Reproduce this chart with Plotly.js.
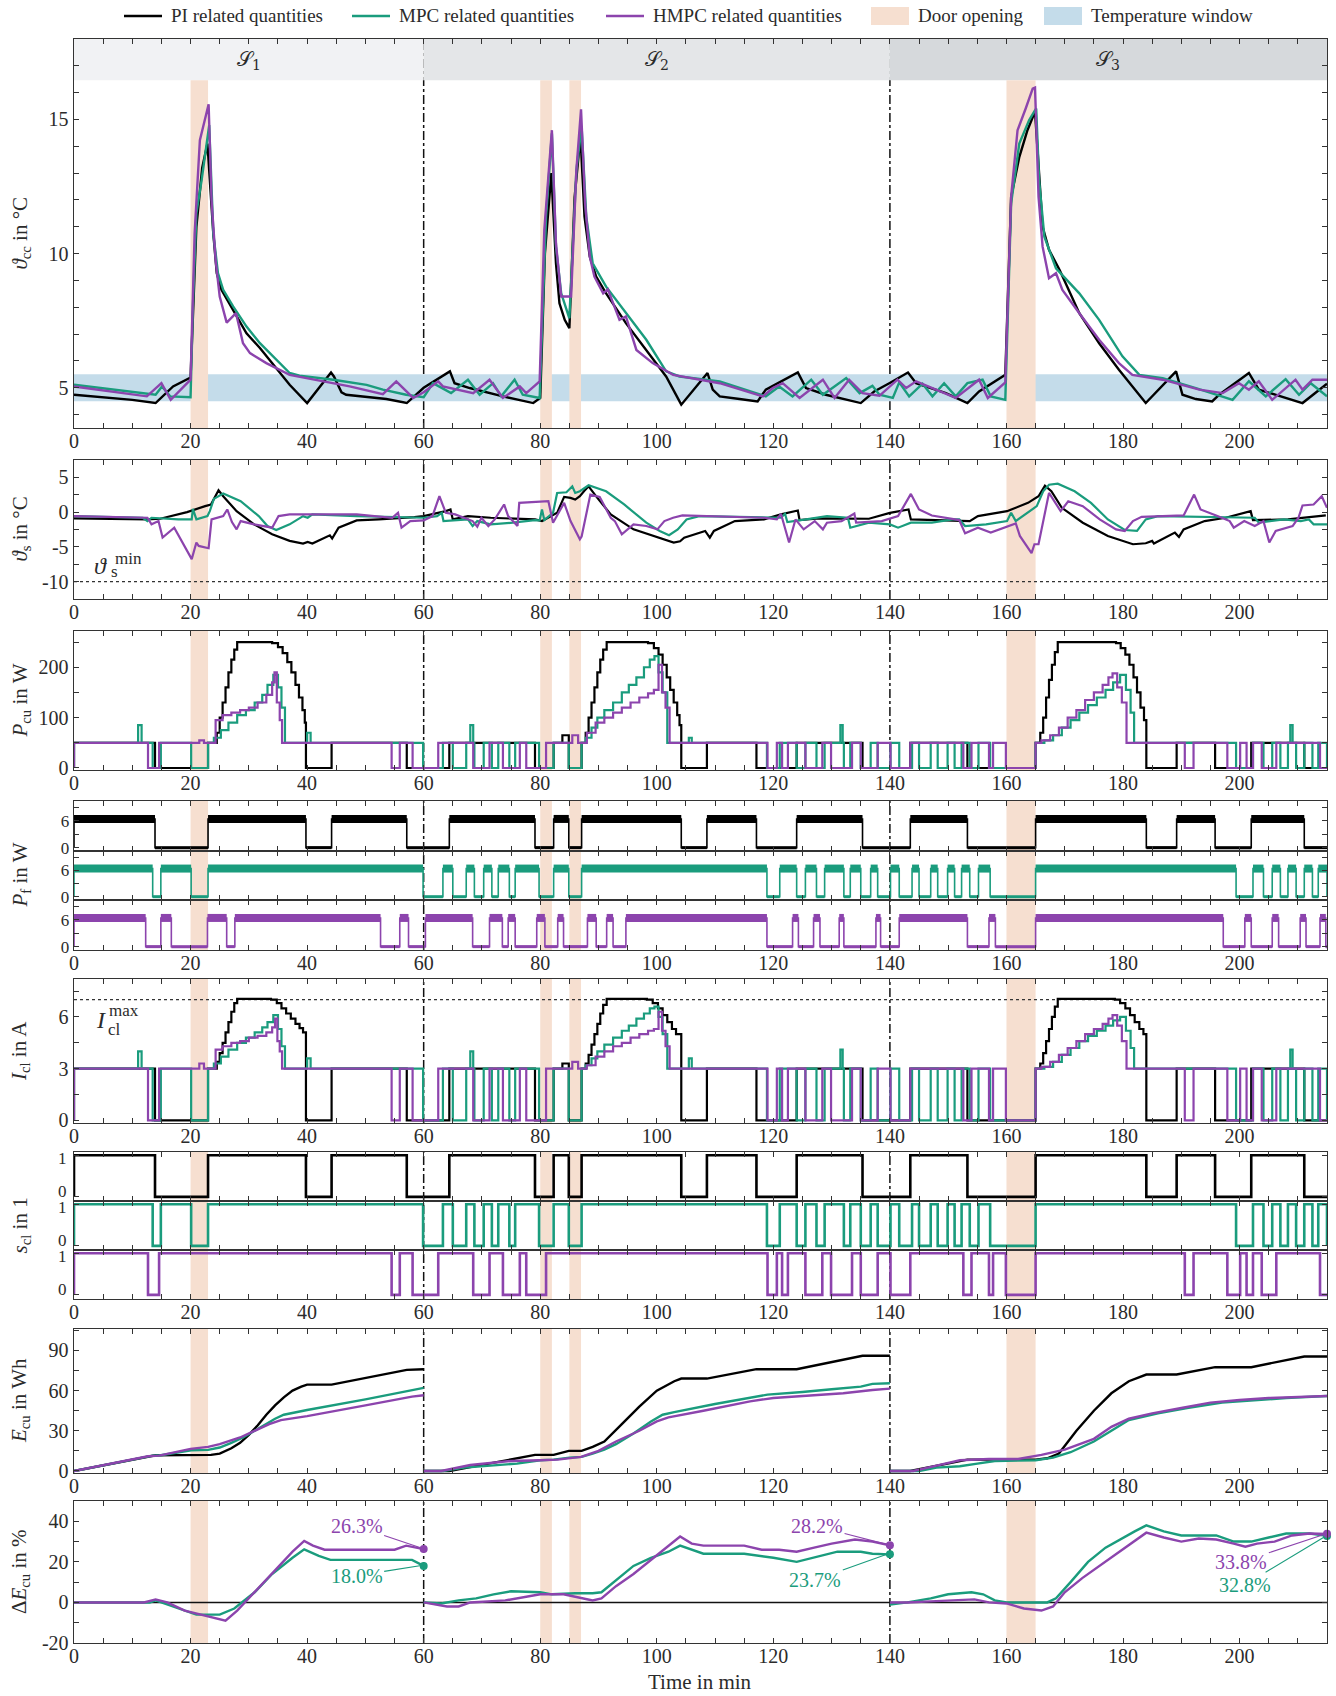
<!DOCTYPE html>
<html><head><meta charset="utf-8">
<script src="https://cdn.plot.ly/plotly-3.0.1.min.js"></script>
<style>body{margin:0;background:#fff}#chart{width:1336px;height:1696px}</style>
</head><body><div id="chart"></div>
<script>
// ---------------- DATA ----------------
const sectionBounds = [0, 60, 140, 215];
const sectionLabels = ['𝒮<sub>1</sub>', '𝒮<sub>2</sub>', '𝒮<sub>3</sub>'];
const doorOpenings = [[20, 23], [80, 82], [85, 87], [160, 165]];
const tempWindow = [4.5, 5.5];
const xTickLabels = [0, 20, 40, 60, 80, 100, 120, 140, 160, 180, 200];

// cold-chamber temperature [min, °C]
const tccPI = [[0,4.74],[5,4.65],[10,4.55],[14,4.43],[17,5.05],[20,5.38],[20.5,8.3],[21,11.0],[22,13.2],[22.9,14.1],[23.9,10.75],[24.5,9.27],[25.3,8.65],[27.3,7.9],[29.6,7.03],[31.9,6.48],[34.2,5.86],[37,5.11],[40,4.43],[44.1,5.57],[44.6,5.42],[45.9,4.83],[46.7,4.74],[50.2,4.65],[53.6,4.58],[57.1,4.43],[60,5.0],[64.5,5.61],[65.3,5.17],[67.9,4.99],[73.6,4.68],[78.8,4.43],[80,4.62],[80.8,10.0],[81.9,13.0],[82.7,9.64],[83.3,8.15],[84.2,7.53],[85,7.22],[85.9,12.1],[86.9,14.4],[87.6,11.38],[88.5,9.89],[89.6,9.14],[91.3,8.52],[94.7,7.41],[98.2,6.41],[101.6,5.42],[104.2,4.37],[108.7,5.55],[109.6,4.93],[110.8,4.68],[114.2,4.58],[117.3,4.49],[118.7,4.93],[124.2,5.57],[125.6,4.99],[129,4.74],[135,4.43],[137.3,4.86],[139.9,5.17],[143.1,5.57],[144.5,5.17],[149.6,4.8],[153.3,4.43],[155.3,4.86],[159.8,5.48],[160.8,12.1],[162.2,13.6],[163.6,14.6],[164.9,15.3],[165.6,12.74],[166.2,11.0],[167.3,10.14],[169.1,9.4],[172.5,7.78],[175.9,6.66],[179.3,5.67],[183.9,4.43],[189.1,5.61],[190.2,4.74],[192.5,4.58],[195.3,4.49],[196.5,4.74],[201.6,5.55],[203.3,4.93],[210.8,4.43],[215,5.15]];
const tccMPC = [[0,5.11],[14,4.74],[15.1,5.05],[16.5,4.68],[20,4.65],[20.4,8.0],[21,11.5],[21.9,12.74],[23.2,14.79],[23.9,10.75],[24.7,9.27],[25.6,8.65],[27.3,8.03],[29.6,7.28],[31.9,6.66],[34.7,6.04],[37,5.55],[38.7,5.45],[44.5,5.3],[50.2,5.11],[53,4.93],[57,4.74],[60,4.65],[61.6,5.17],[64.7,4.8],[67.6,5.3],[69.6,4.74],[71.9,5.17],[73.3,4.68],[75.6,5.3],[77,4.74],[79.9,4.62],[81,11.38],[82,14.48],[82.7,10.26],[83.6,8.52],[85,7.59],[86.2,13.1],[87.1,14.73],[87.9,11.38],[89,9.64],[91.3,8.77],[94.7,7.78],[98.2,6.79],[101.6,5.61],[103.9,5.42],[110.8,5.24],[118.7,4.68],[121,5.05],[123.3,4.68],[126.5,5.3],[128.5,4.74],[132.5,5.36],[134.8,4.8],[137,5.07],[138.2,4.74],[140.5,4.62],[141.6,5.2],[143.3,4.68],[145.6,5.15],[147.3,4.68],[149.3,5.17],[151.3,4.68],[153.3,5.17],[155.9,5.3],[157.3,4.68],[159.8,4.55],[160.8,11.87],[162.2,14.1],[163.9,14.98],[165.1,15.41],[165.6,12.74],[166.5,10.63],[168.5,9.45],[172.5,8.52],[175.9,7.53],[179.9,6.17],[182.8,5.48],[186.8,5.36],[192.5,4.99],[198.8,4.55],[201.6,5.24],[204.5,4.68],[207.9,5.32],[210.2,4.74],[212.2,5.17],[215,4.68]];
const tccHMPC = [[0,5.05],[12.5,4.68],[15,5.17],[16.6,4.55],[20,5.3],[20.7,10.76],[21.6,14.23],[23.1,15.57],[23.6,12.0],[24.3,9.76],[25,8.4],[26.2,7.43],[27.8,7.78],[29,6.66],[30.2,6.29],[33,5.92],[37,5.48],[41.6,5.3],[47.3,5.05],[53,4.76],[55.3,5.24],[58.2,4.62],[60,4.83],[62.5,5.24],[63.3,5.05],[68.5,4.8],[71.3,5.3],[73.6,4.62],[76.5,5.05],[77.6,4.8],[79.9,5.24],[80.7,10.88],[82,14.6],[82.7,10.38],[83.6,8.4],[85.3,8.4],[86.2,13.11],[87,15.38],[87.7,11.87],[88.5,9.89],[89.3,9.14],[90.8,8.52],[91.6,8.67],[93.6,7.53],[94.7,7.66],[96.5,6.41],[99.3,5.92],[102.8,5.48],[110.8,5.17],[118.2,4.68],[119.9,4.99],[121.6,5.17],[124.5,4.62],[128.5,5.3],[130.5,4.62],[133,5.3],[135.3,4.8],[138.2,4.7],[141.3,5.3],[142.8,4.99],[144.5,5.24],[151.3,4.62],[155.3,5.3],[156.8,4.62],[159.8,5.2],[160.8,12.12],[161.9,14.6],[163.3,15.41],[164.5,16.15],[164.9,16.19],[165.5,12.12],[166.2,10.26],[167.3,9.08],[168.5,9.27],[169.6,8.65],[172.5,7.78],[175.9,6.79],[179.3,5.92],[181.6,5.48],[186.8,5.3],[193.1,4.93],[197.1,4.8],[199.9,5.17],[201.6,4.93],[203.3,5.24],[205.6,4.55],[209.6,5.3],[210.8,4.93],[212.5,5.3],[215,5.3]];

// evaporator / supply temperature [min, °C]
const tsPI = [[0,-0.9],[12.6,-1.05],[14.8,-0.95],[19.4,0],[22.5,0.86],[23.5,1.1],[24.8,3.14],[25.6,2.29],[27.9,0.14],[30.9,-1.76],[34,-3.19],[37,-4.14],[39.3,-4.52],[40.1,-4.29],[40.9,-4.52],[43.9,-3.33],[44.3,-3.8],[45.4,-2.24],[48.5,-1.19],[52.3,-1.05],[58.4,-0.71],[60,-0.57],[63.8,0.14],[64.6,0.38],[65,-1.05],[67.6,-0.57],[71.5,-0.81],[79.1,-1.05],[80.3,-1.29],[81.8,-0.57],[82.9,-0.1],[84.1,2.19],[85.2,2.05],[86,1.81],[86.8,2.29],[87.5,3.0],[88.3,3.71],[89.8,2.05],[92.1,-0.33],[96,-2.48],[99.8,-3.52],[102.9,-4.38],[104,-4.2],[104.7,-3.67],[108.3,-2.71],[109.1,-3.67],[109.8,-2.71],[113.4,-1.29],[118.4,-1.05],[121.3,-0.33],[124.2,0.24],[124.5,-1.14],[127.8,-0.9],[136.4,-0.95],[140,-0.1],[143.2,0.38],[143.6,-1.05],[153.7,-1.29],[155.1,-0.57],[160.1,0.14],[163.7,1.33],[165.5,2.29],[166.6,3.81],[167.7,3.0],[169.5,0.62],[173.1,-1.52],[177.4,-3.43],[181.7,-4.62],[183.9,-4.48],[185,-4.14],[185.3,-4.52],[188.9,-2.95],[189.6,-3.57],[190.4,-2.48],[194,-1.29],[197.6,-0.81],[201.9,0.14],[202.3,-1.14],[208.3,-1.05],[214.8,-0.48]];
const tsMPC = [[0,-0.57],[11.8,-0.81],[12.6,-1.29],[13.3,-0.81],[17.9,-1.05],[20.2,-1.05],[20.4,0.48],[21,-1.05],[22.9,-0.57],[23.3,0.14],[24,1.9],[25.6,2.67],[28.6,1.57],[31.7,-0.57],[33.2,-2.0],[34.7,-2.57],[37,-1.76],[39.3,-0.57],[40.1,-0.81],[40.9,-0.33],[48.5,-0.57],[60,-0.81],[62.3,-0.57],[63.1,-0.1],[63.4,-1.29],[67.6,-1.05],[68.4,-2.0],[69.2,-1.29],[71.5,-1.76],[75.3,-1.52],[79.1,-1.14],[79.9,-1.19],[80.3,0.38],[80.7,-1.14],[82.2,-0.1],[82.9,2.76],[84.5,2.86],[85.5,3.71],[86,2.76],[86.8,3.0],[88.3,3.86],[91.3,3.0],[94.4,1.1],[98.2,-1.52],[100.5,-2.71],[102.1,-3.33],[103.6,-2.48],[105.1,-1.05],[107.3,-0.57],[118.4,-0.81],[121.3,-0.81],[122,-0.24],[122.4,-1.43],[125.6,-1.05],[129.2,-0.57],[132.8,-0.81],[133.2,-2.24],[136.4,-1.52],[140,-1.76],[141.4,-2.24],[143.6,-1.52],[147.2,-1.52],[150.8,-1.05],[151.9,-1.05],[152.9,-2.0],[156.5,-1.76],[160.1,-1.29],[160.8,-0.1],[161.6,-1.29],[165.2,0.86],[166.3,3.0],[167.3,3.95],[168.8,4.1],[171.7,3.0],[174.5,1.33],[177.4,-1.05],[180.3,-2.57],[182.4,-2.71],[183.9,-1.05],[186,-0.57],[197.6,-0.81],[202.6,-0.81],[203.3,-1.52],[207.6,-1.05],[210.5,-1.29],[211.9,-1.05],[212.7,-1.76],[215,-1.76]];
const tsHMPC = [[0,-0.57],[12.6,-0.81],[13.3,-1.76],[14.5,-1.29],[15.2,-3.67],[17.2,-2.24],[20.2,-6.76],[21,-4.38],[21.4,-4.86],[22.5,-5.1],[23.1,-5.19],[23.6,-1.05],[25.6,-0.57],[26.3,0.38],[27.1,-1.43],[27.9,-2.48],[28.6,-1.29],[30.9,-1.76],[34,-2.24],[35.1,-0.57],[37,-0.33],[48.5,-0.33],[54.6,-0.81],[55.6,-0.1],[56.2,-2.24],[57.7,-1.29],[60,-1.19],[61.5,-0.57],[62.7,2.29],[63.8,-0.1],[65.4,-0.33],[68.4,-1.29],[69.2,-2.1],[69.9,-0.81],[71.1,-2.0],[72.2,-1.05],[73.8,1.1],[74.5,-0.57],[76.1,-2.0],[76.4,1.33],[79.9,1.57],[81.4,1.57],[82.2,-1.52],[84.1,1.33],[85.2,-1.29],[86.8,-3.9],[87.1,-3.52],[88.6,2.52],[90.2,2.19],[92.1,-0.81],[92.8,-1.29],[94,-3.19],[96,-1.76],[98.2,-2.0],[100.1,-2.48],[101.3,-1.29],[102.8,-0.81],[104.4,-0.48],[118.4,-0.81],[120.6,-1.05],[121.3,-0.24],[122.7,-4.38],[123.8,-1.05],[125.2,-2.48],[127.1,-1.29],[128.5,-2.48],[129.2,-1.52],[131.7,-1.29],[133.9,-0.19],[134.2,-1.52],[138.6,-1.29],[141.4,-0.57],[143.6,2.62],[145,0.38],[147.2,-0.48],[151.9,-1.14],[152.9,-3.05],[155.1,-2.24],[157.3,-2.95],[161.6,-1.62],[162.3,-3.43],[164.3,-5.9],[164.8,-4.62],[165.5,-4.62],[167.3,2.76],[169.3,0.14],[170.6,1.57],[173.1,0.86],[176,-1.05],[178.8,-2.48],[180.3,-2.71],[181.7,-1.29],[183.2,-0.67],[190.4,-0.48],[192.2,2.52],[193.3,0.38],[196.2,-0.57],[198.3,-1.29],[199,-2.24],[200.8,-1.29],[202.6,-2.0],[204.1,-1.29],[205.1,-4.38],[206.2,-2.71],[209.1,-2.0],[210.1,-0.81],[210.8,0.95],[212.7,1.1],[214.1,2.29],[215,0.62]];
const tsMin = -10;

// compressor switching (on-intervals, min)
const sclOnPI = [[0,13.9],[23.0,39.8],[44.2,57.1],[64.4,79.1],[82.3,84.9],[87.1,104.2],[108.6,117.1],[124.0,135.3],[143.5,153.3],[165.0,184.0],[189.2,195.8],[202.0,211.1]];
const sclOnMPC = [[0,13.5],[14.9,20.1],[23.0,59.9],[63.3,65.0],[67.3,68.7],[70.3,71.7],[72.8,74.7],[75.7,79.8],[82.3,84.9],[87.1,118.9],[121.1,124.0],[125.5,127.4],[128.8,132.1],[133.2,135.0],[136.7,137.9],[140.1,141.6],[143.8,145.0],[147.0,148.2],[149.9,151.1],[152.3,153.7],[155.2,157.2],[165.0,199.4],[202.3,204.1],[205.6,207.0],[208.3,209.7],[211.1,212.5],[213.5,215]];
const sclOnHMPC = [[0,12.7],[14.6,54.5],[55.9,58.1],[62.5,68.5],[71.3,73.6],[76.5,77.6],[81.0,119.0],[120.6,121.5],[122.5,125.5],[128.4,129.9],[133.5,135.0],[137.9,140.1],[143.5,152.6],[154.0,157.0],[157.7,159.9],[165.0,190.6],[192.1,197.9],[200.1,201.2],[202.3,203.8],[206.3,213.8]];
// fan on-intervals (PI and MPC fans follow their compressor; HMPC separate)
const pfOnPI = sclOnPI;
const pfOnMPC = sclOnMPC;
const pfOnHMPC = [[0,12.3],[14.9,16.7],[22.9,26.2],[27.6,52.6],[55.9,57.4],[60.3,68.4],[71.3,73.5],[74.5,75.7],[79.4,80.8],[83.0,84.0],[88.1,89.6],[91.4,92.5],[94.7,118.9],[123.3,124.3],[126.9,128.0],[131.3,132.1],[137.6,138.4],[141.6,153.3],[157.0,158.1],[165.0,197.2],[200.9,202.0],[205.6,206.7],[210.4,211.4],[213.8,214.8]];
const pfLevel = 6.4;

// compressor power: base level when on, plus values read during recovery [min, W]
const pcuBase = 50;
const pcuPIExtra = [[24.5,70],[25,100],[25.5,130],[26,160],[26.5,190],[27,215],[27.5,235],[28,250],[34,248],[35,240],[35.8,228],[36.6,210],[37.3,190],[38,165],[38.6,140],[39.2,115],[39.6,90],[83.8,65],[87.8,70],[88.3,100],[88.8,130],[89.3,160],[89.8,190],[90.3,215],[90.8,235],[91.4,250],[98.5,248],[99.5,238],[100.3,225],[101,205],[101.7,180],[102.3,155],[102.9,130],[103.5,105],[103.9,85],[165.8,70],[166.3,100],[166.8,140],[167.3,175],[167.8,205],[168.3,230],[168.8,250],[178.8,248],[179.6,238],[180.4,225],[181.1,205],[181.8,180],[182.4,150],[183,120],[183.6,95]];
const pcuMPCExtra = [[11.0,85],[11.6,50],[24.0,60],[25.2,75],[26.5,90],[28,105],[29.5,115],[31,130],[32.3,145],[33.2,165],[34.2,185],[35,160],[35.6,120],[36.2,50],[40,70],[40.6,50],[68.0,85],[68.5,50],[87.8,60],[88.8,80],[89.8,100],[91,115],[92.5,130],[94,150],[95.2,165],[96.5,180],[97.8,200],[98.8,215],[99.6,222],[100.3,190],[101,150],[101.8,50],[105.5,60],[106,50],[131.5,85],[131.9,50],[166.5,55],[168,65],[169.5,80],[171,95],[172.5,110],[174,125],[175.5,140],[177,155],[178.3,170],[179.5,185],[180.5,155],[181.3,110],[181.9,50],[208.7,85],[209.1,50]];
const pcuHMPCExtra = [[21.5,55],[22.3,50],[24.3,95],[25.5,105],[27,110],[28.5,115],[30,120],[31.5,130],[33,145],[34,170],[34.4,190],[34.8,130],[35.3,95],[35.7,50],[85.5,65],[86.5,50],[88,70],[89.5,90],[91,100],[92.5,110],[94,120],[95.5,130],[97,140],[98.5,148],[99.5,155],[100.3,205],[100.9,150],[101.5,120],[102.2,50],[166,55],[167.5,65],[169,80],[170.5,100],[172,115],[173.5,135],[175,150],[176.5,165],[177.5,180],[178.2,188],[179,160],[179.8,130],[180.6,50]];

// compressor current [min, A]
const iclBase = 3;
const iclMax = 7;
const iclPIExtra = [[24.5,3.4],[25,3.9],[25.5,4.5],[26,5.1],[26.5,5.7],[27,6.3],[27.5,6.8],[28,7.05],[33.8,7.0],[34.8,6.8],[35.6,6.5],[36.4,6.2],[37.2,5.9],[38,5.6],[38.7,5.35],[39.3,5.1],[83.8,3.3],[87.8,3.3],[88.3,3.8],[88.8,4.4],[89.3,5.0],[89.8,5.6],[90.3,6.2],[90.8,6.7],[91.4,7.05],[98.3,7.0],[99.3,6.8],[100.2,6.5],[101,6.1],[101.8,5.7],[102.6,5.3],[103.3,5.0],[165.8,3.3],[166.3,3.9],[166.8,4.6],[167.3,5.3],[167.8,6.0],[168.3,6.6],[168.8,7.05],[178.6,7.0],[179.5,6.8],[180.4,6.5],[181.2,6.1],[182,5.7],[182.8,5.3],[183.5,5.0]];
const iclMPCExtra = [[11.0,4.0],[11.6,3],[24,3.3],[25.2,3.7],[26.5,4.1],[28,4.5],[29.5,4.8],[31,5.1],[32.3,5.4],[33.2,5.7],[34.2,6.1],[35,5.3],[35.6,4.3],[36.2,3],[40,3.6],[40.6,3],[68,4.0],[68.5,3],[87.8,3.2],[88.8,3.6],[89.8,4.0],[91,4.4],[92.5,4.8],[94,5.2],[95.2,5.5],[96.5,5.9],[97.8,6.2],[98.8,6.5],[99.6,6.6],[100.3,6.0],[101,5.0],[101.8,3],[105.5,3.6],[106,3],[131.5,4.1],[131.9,3],[166.5,3.1],[168,3.4],[169.5,3.8],[171,4.2],[172.5,4.6],[174,4.9],[175.5,5.2],[177,5.5],[178.3,5.8],[179.5,6.0],[180.5,5.2],[181.3,4.2],[181.9,3],[208.7,4.1],[209.1,3]];
const iclHMPCExtra = [[21.5,3.3],[22.3,3],[24.3,4.1],[25.5,4.3],[27,4.5],[28.5,4.6],[30,4.8],[31.5,4.9],[33,5.1],[34,5.4],[34.5,5.9],[34.9,4.6],[35.3,4.0],[35.7,3],[85.5,3.4],[86.5,3],[88,3.2],[89.5,3.7],[91,4.0],[92.5,4.3],[94,4.5],[95.5,4.8],[97,5.0],[98.5,5.2],[99.5,5.3],[100.3,6.3],[100.9,5.2],[101.5,4.3],[102.2,3],[166,3.1],[167.5,3.4],[169,3.8],[170.5,4.2],[172,4.6],[173.5,5.0],[175,5.3],[176.5,5.6],[177.5,5.9],[178.2,6.1],[179,5.5],[179.8,4.6],[180.6,3]];

// compressor energy per scenario [min, Wh] (null separates scenarios)
const ecuPI = [[0,0],[14,11.7],[23.5,12],[25,13],[27,17],[28.5,21],[30,27],[31.5,34],[33,42],[34.5,49],[36,55],[37.5,60],[39,63],[40,64.5],[44.2,64.5],[57.1,75.5],[60,76],[60,null],
  [60,0],[64.4,0],[79.1,12],[82.3,12],[84.9,15],[87.1,15],[89,18],[91,22],[94,35],[97,48],[100,60],[103,67],[104.2,69],[108.6,69],[117.1,76],[124,76],[135.3,86],[140,86],[140,null],
  [140,0],[143.5,0],[153.3,8.5],[165,8.5],[167,9.5],[169,13],[172,30],[175,45],[178,58],[181,67],[184,72],[189.2,72],[195.8,77.5],[202,77.5],[211.1,85.5],[215,85.5]];
const ecuMPC = [[0,0],[13.5,11.5],[14.9,11.8],[20.1,15.5],[23,15.8],[25,17.5],[27,21],[29,25],[31,30],[33,35],[34.5,39],[36,42],[40,45.5],[50,53.5],[60,62],[60,null],
  [60,0],[63.3,0],[67,2.5],[72,4],[76,5.5],[80,8],[82.3,8.5],[85,10],[87.1,10.5],[89,13],[91,16],[93,20],[96,28],[99,37],[101,42],[103,44],[110,50],[119,57],[121,57.5],[125,59],[130,61],[135,63],[137,65],[140,65.5],[140,null],
  [140,0],[145,0],[148,2.5],[152,3.5],[155,5.5],[158,7.5],[165,8],[168,10],[171,14],[175,22],[178,30],[181,38],[186,43],[191,47],[197,51],[203,53],[208,54.5],[215,56]];
const ecuHMPC = [[0,0],[12.7,11],[14.6,11.5],[20,16.5],[23,18],[25,20],[28.5,25],[31,30],[33.5,35],[35.5,38],[40,41],[50,49],[58,55.5],[60,56.5],[60,null],
  [60,0],[63,0],[68,4.5],[72,6.5],[75,7.5],[80,8],[83,8.5],[87,10.5],[90,15],[93,22],[97,30],[100,37],[102,40],[108,45],[116,52],[120,54.5],[128,56.5],[132,58],[137,60.5],[140,61.5],[140,null],
  [140,0],[144,0],[148,4],[152,8],[157,9],[162,9],[166,12],[170,16],[175,24],[178,33],[181,39],[185,43],[190,47],[195,51],[200,53],[205,54.5],[215,56]];

// relative energy saving vs PI [min, %]
const dEMPC = [[0,0],[13,0],[14,1],[18,-3],[21,-6],[25,-6],[27.5,-3],[31,5],[34,14],[37.5,22],[39.5,26.2],[42,23],[44,21],[58,21],[60,18],[60,null],
  [60,0],[63,-0.5],[66,1],[69,2],[72,4],[75,5.5],[80,5],[82,4],[86,4.5],[89,4.5],[90.5,5],[93,11],[96,18],[99,22],[102,25],[104,28],[106,26],[108,24],[115,24],[120,22],[124,20],[127,22],[131,25],[135,25],[137,24],[140,23.7],[140,null],
  [140,-1],[143,0],[147,2],[150,4],[154,5],[156,4],[158,1],[160,0],[167,0],[168.5,2],[171,10],[174,20],[177,27],[180,32],[182,35],[184,38],[187,35],[190,33],[196,33],[199,30],[202,30],[205,32],[208,34],[212,34],[215,32.8]];
const dEHMPC = [[0,0],[12,0],[14,1.5],[16,0],[19,-4],[23,-7],[26,-9],[28,-4],[31,5],[34,14],[37.5,25],[39.5,30.3],[41,28],[43,26],[55,26],[57,28],[58.5,27],[60,26.3],[60,null],
  [60,0],[62,-1],[64,-2],[66,-2],[68,0],[74,1],[78,3],[80,4],[84,4],[87,2],[89,1],[90.5,2],[93,8],[96,14],[99,21],[102,28],[104,32.5],[106,29],[108,28],[115,28],[118,26],[121,26],[124,25],[127,27],[130,29],[134,31],[137,30],[140,28.2],[140,null],
  [140,0],[143,0],[147,0.5],[152,1],[154.5,1.5],[157,0],[160,-0.5],[163,-3],[166,-4],[168,-2],[170,5],[173,12],[176,18],[178,22],[181,28],[184,34.4],[187,32],[190,30],[193,31.5],[196,31],[199,29],[201,27.5],[203,29],[206,30],[209,33],[212,34],[215,33.8]];
const dEFinalMPC = [[60,18.0],[140,23.7],[215,32.8]];
const dEFinalHMPC = [[60,26.3],[140,28.2],[215,33.8]];

// ---------------- STYLE ----------------
const C_PI = '#000000', C_MPC = '#1a9c7d', C_HMPC = '#8c44ad';
const C_DOOR = '#f6dfd0', C_WIN = '#c4dcea';
const C_HEAD = ['#f1f2f4', '#e4e6e8', '#d6d9dc'];
const FONT = 'Liberation Serif, Times New Roman, serif';
const TXT = '#2b2b2b';
const W = 1336, H = 1696;
// panel pixel boxes [top, bottom]
const boxes = [[39,428],[460,599],[631,770],[801,851],[851,900],[900,950],[979,1123],[1152,1201],[1201,1250],[1250,1299],[1329,1473],[1501,1643]];
const yRanges = [[3.5,18],[-12.5,7.5],[-4,272],[-0.75,10.4],[-0.75,10.4],[-0.75,10.4],[-0.15,8.2],[-0.1,1.08],[-0.1,1.08],[-0.1,1.08],[-1.5,106],[-20,50]];
const headerBottom = 16.46;

function seq(a, b, s) { const r = []; for (let v = a; v <= b + 1e-9; v += s) r.push(+v.toFixed(3)); return r; }
const yTicks = [
  [seq(4,18,1), [5,10,15]],
  [seq(-12.5,7.5,2.5), [-10,-5,0,5]],
  [seq(0,250,50), [0,100,200]],
  [[0,3,6,9],[0,6]],[[0,3,6,9],[0,6]],[[0,3,6,9],[0,6]],
  [seq(0,7.5,1.5),[0,3,6]],
  [[0,1],[]],[[0,1],[]],[[0,1],[]],
  [seq(0,105,15),[0,30,60,90]],
  [seq(-20,50,10),[-20,0,20,40]]
];
const sclLabels = [[1, '1', -3], [0, '0', 5]]; // value, text, vertical nudge (px) for s_cl sub-panels
const showXLabels = [true,true,true,false,false,true,true,false,false,true,true,true];
const subPanel = [false,false,false,true,true,true,false,true,true,true,false,false];

// ---------------- BUILD ----------------
const traces = [];
const ax = i => (i === 1 ? '' : String(i));
function addLine(pairs, color, i, width, shape) {
  traces.push({ x: pairs.map(p => p[0]), y: pairs.map(p => p[1]), xaxis: 'x' + ax(i), yaxis: 'y' + ax(i),
    type: 'scatter', mode: 'lines', line: { color: color, width: width, shape: shape || 'linear' },
    connectgaps: false, showlegend: false, hoverinfo: 'skip' });
}
function stepPairs(intervals, onVal, extra, tEnd) {
  const ev = [[0, 0, 0]];
  intervals.forEach(([a, b]) => { ev.push([a, onVal, 1]); ev.push([b, 0, 0]); });
  (extra || []).forEach(([t, v]) => ev.push([t, v, 2]));
  ev.sort((p, q) => p[0] - q[0] || p[2] - q[2]);
  const out = ev.map(e => [e[0], e[1]]);
  out.push([tEnd, out[out.length - 1][1]]);
  return out;
}
function bandPairs(intervals, level) {
  const out = [];
  intervals.forEach(([a, b]) => { out.push([a, level], [b, level], [b, null]); });
  return out;
}
function offPairs(intervals, tEnd) {
  const out = []; let t = 0;
  intervals.forEach(([a, b]) => { if (a > t) out.push([t, 0], [a, 0], [a, null]); t = b; });
  if (t < tEnd) out.push([t, 0], [tEnd, 0]);
  return out;
}

// panel 1
addLine(tccPI, C_PI, 1, 2.4); addLine(tccMPC, C_MPC, 1, 2.4); addLine(tccHMPC, C_HMPC, 1, 2.4);
// panel 2
addLine(tsPI, C_PI, 2, 2.2); addLine(tsMPC, C_MPC, 2, 2.2); addLine(tsHMPC, C_HMPC, 2, 2.2);
// panel 3
addLine(stepPairs(sclOnPI, pcuBase, pcuPIExtra, 215), C_PI, 3, 2.2, 'hv');
addLine(stepPairs(sclOnMPC, pcuBase, pcuMPCExtra, 215), C_MPC, 3, 2.2, 'hv');
addLine(stepPairs(sclOnHMPC, pcuBase, pcuHMPCExtra, 215), C_HMPC, 3, 2.2, 'hv');
// panel 4 (fans)
[[pfOnPI, C_PI, 4], [pfOnMPC, C_MPC, 5], [pfOnHMPC, C_HMPC, 6]].forEach(([iv, c, i]) => {
  addLine(stepPairs(iv, pfLevel, [], 215), c, i, 1.6, 'hv');
  addLine(bandPairs(iv, pfLevel), c, i, 8);
  addLine(offPairs(iv, 215), c, i, 3);
});
// panel 5
addLine(stepPairs(sclOnPI, iclBase, iclPIExtra, 215), C_PI, 7, 2.2, 'hv');
addLine(stepPairs(sclOnMPC, iclBase, iclMPCExtra, 215), C_MPC, 7, 2.2, 'hv');
addLine(stepPairs(sclOnHMPC, iclBase, iclHMPCExtra, 215), C_HMPC, 7, 2.2, 'hv');
// panel 6
addLine(stepPairs(sclOnPI, 1, [], 215), C_PI, 8, 2.6, 'hv');
addLine(stepPairs(sclOnMPC, 1, [], 215), C_MPC, 9, 2.6, 'hv');
addLine(stepPairs(sclOnHMPC, 1, [], 215), C_HMPC, 10, 2.6, 'hv');
// panel 7
addLine(ecuPI, C_PI, 11, 2.4); addLine(ecuMPC, C_MPC, 11, 2.4); addLine(ecuHMPC, C_HMPC, 11, 2.4);
// panel 8
addLine(dEMPC, C_MPC, 12, 2.4); addLine(dEHMPC, C_HMPC, 12, 2.4);
traces.push({ x: dEFinalMPC.map(p => p[0]), y: dEFinalMPC.map(p => p[1]), xaxis: 'x12', yaxis: 'y12', type: 'scatter', mode: 'markers', marker: { color: C_MPC, size: 8 }, showlegend: false, hoverinfo: 'skip', cliponaxis: false });
traces.push({ x: dEFinalHMPC.map(p => p[0]), y: dEFinalHMPC.map(p => p[1]), xaxis: 'x12', yaxis: 'y12', type: 'scatter', mode: 'markers', marker: { color: C_HMPC, size: 8 }, showlegend: false, hoverinfo: 'skip', cliponaxis: false });

const layout = {
  width: W, height: H, margin: { l: 74, r: 9, t: 0, b: 0 }, paper_bgcolor: '#fff', plot_bgcolor: 'rgba(0,0,0,0)',
  font: { family: FONT, size: 20, color: TXT }, showlegend: false, shapes: [], annotations: []
};
const xTickVals = seq(0, 215, 5);
for (let i = 1; i <= 12; i++) {
  const b = boxes[i - 1];
  const common = { ticks: 'inside', ticklen: 5, tickwidth: 1, tickcolor: '#333', showline: true, linecolor: '#333', linewidth: 1.4,
    mirror: 'ticks', showgrid: false, zeroline: false, fixedrange: true, tickfont: { family: FONT, size: 20, color: TXT }, automargin: false };
  layout['xaxis' + ax(i)] = Object.assign({}, common, { domain: [0, 1], anchor: 'y' + ax(i), range: [0, 215], tickmode: 'array', tickvals: xTickVals,
    ticktext: xTickVals.map(v => (showXLabels[i - 1] && xTickLabels.includes(v)) ? String(v) : ''), ticklabelstandoff: -5 });
  const [tv, lab] = yTicks[i - 1];
  layout['yaxis' + ax(i)] = Object.assign({}, common, { domain: [1 - b[1] / H, 1 - b[0] / H], anchor: 'x' + ax(i), range: yRanges[i - 1], tickmode: 'array', tickvals: tv,
    ticktext: tv.map(v => lab.includes(v) ? String(v) : ''), ticklabelstandoff: 0,
    tickfont: { family: FONT, size: subPanel[i - 1] ? 17 : 20, color: TXT } });
}
const S = layout.shapes, A = layout.annotations;
// s_cl tick labels placed as annotations so that neighbouring sub-panels do not collide
[8, 9, 10].forEach(i => sclLabels.forEach(([v, t, dy]) => A.push({ xref: 'paper', yref: 'y' + ax(i), x: -0.004, y: v, xanchor: 'right', yanchor: 'middle',
  yshift: dy, text: t, showarrow: false, font: { size: 17 } })));
// panel 1 decorations
S.push({ type: 'rect', xref: 'x', yref: 'y', x0: 0, x1: 215, y0: tempWindow[0], y1: tempWindow[1], fillcolor: C_WIN, line: { width: 0 }, layer: 'below' });
for (let k = 0; k < 3; k++) {
  S.push({ type: 'rect', xref: 'x', yref: 'y', x0: sectionBounds[k], x1: sectionBounds[k + 1], y0: headerBottom, y1: 18, fillcolor: C_HEAD[k], line: { width: 0 }, layer: 'below' });
  A.push({ xref: 'x', yref: 'y', x: (sectionBounds[k] + sectionBounds[k + 1]) / 2, y: (headerBottom + 18) / 2, text: sectionLabels[k], showarrow: false, font: { family: 'DejaVu Serif, ' + FONT, size: 20, color: TXT } });
}
for (let i = 1; i <= 12; i++) {
  doorOpenings.forEach(([a, b]) => {
    if (i === 1) S.push({ type: 'rect', xref: 'x', yref: 'y', x0: a, x1: b, y0: 3.5, y1: headerBottom, fillcolor: C_DOOR, line: { width: 0 }, layer: 'below' });
    else S.push({ type: 'rect', xref: 'x' + ax(i), yref: 'y' + ax(i) + ' domain', x0: a, x1: b, y0: 0, y1: 1, fillcolor: C_DOOR, line: { width: 0 }, layer: 'below' });
  });
}
for (let i = 1; i <= 12; i++) {
  [60, 140].forEach(x => S.push({ type: 'line', xref: 'x' + ax(i), yref: 'y' + ax(i) + ' domain', x0: x, x1: x, y0: 0, y1: 1, line: { color: '#111', width: 1.5, dash: 'dashdot' }, layer: 'below' }));
}
S.push({ type: 'line', xref: 'x2', yref: 'y2', x0: 0, x1: 215, y0: tsMin, y1: tsMin, line: { color: '#333', width: 1.2, dash: 'dot' }, layer: 'below' });
S.push({ type: 'line', xref: 'x7', yref: 'y7', x0: 0, x1: 215, y0: iclMax, y1: iclMax, line: { color: '#333', width: 1.2, dash: 'dot' }, layer: 'below' });
S.push({ type: 'line', xref: 'x12', yref: 'y12', x0: 0, x1: 215, y0: 0, y1: 0, line: { color: '#111', width: 1.5 }, layer: 'below' });

// inline labels
A.push({ xref: 'x2', yref: 'y2', x: 4.6, y: -7.8, text: '<i>ϑ</i>', showarrow: false, font: { size: 24 } });
A.push({ xref: 'x2', yref: 'y2', x: 9.4, y: -6.7, text: 'min', showarrow: false, font: { size: 17 } });
A.push({ xref: 'x2', yref: 'y2', x: 7.0, y: -8.6, text: 's', showarrow: false, font: { size: 17 } });
A.push({ xref: 'x7', yref: 'y7', x: 4.6, y: 5.8, text: '<i>I</i>', showarrow: false, font: { size: 24 } });
A.push({ xref: 'x7', yref: 'y7', x: 8.6, y: 6.4, text: 'max', showarrow: false, font: { size: 17 } });
A.push({ xref: 'x7', yref: 'y7', x: 7.0, y: 5.3, text: 'cl', showarrow: false, font: { size: 17 } });

// final-value callouts
const callouts = [[59.6, 26.8, 48.5, 37.5, '26.3%', C_HMPC], [59.6, 18.2, 48.5, 13.2, '18.0%', C_MPC],
  [139.6, 28.5, 127.5, 37.5, '28.2%', C_HMPC], [139.6, 23.9, 127.2, 11.2, '23.7%', C_MPC],
  [214.6, 33.6, 200.3, 20.0, '33.8%', C_HMPC], [214.6, 32.4, 200.9, 8.7, '32.8%', C_MPC]];
callouts.forEach(([x, y, axv, ayv, t, c]) => A.push({ xref: 'x12', yref: 'y12', axref: 'x12', ayref: 'y12', x: x, y: y, ax: axv, ay: ayv, text: t,
  showarrow: true, arrowhead: 0, arrowwidth: 1.1, arrowcolor: c, font: { size: 20, color: c } }));

// y-axis titles
const yTitles = [['<i>ϑ</i><sub>cc</sub> in °C', [0]], ['<i>ϑ</i><sub>s</sub> in °C', [1]], ['<i>P</i><sub>cu</sub> in W', [2]], ['<i>P</i><sub>f</sub> in W', [3, 5]],
  ['<i>I</i><sub>cl</sub> in A', [6]], ['<i>s</i><sub>cl</sub> in 1', [7, 9]], ['<i>E</i><sub>cu</sub> in Wh', [10]], ['Δ<i>E</i><sub>cu</sub> in %', [11]]];
yTitles.forEach(([t, idx]) => {
  const top = boxes[idx[0]][0], bot = boxes[idx[idx.length - 1]][1];
  A.push({ xref: 'paper', yref: 'paper', x: (20 - 74) / 1253, y: 1 - (top + bot) / 2 / H, text: t, textangle: -90, showarrow: false, xanchor: 'center', yanchor: 'middle', font: { size: 21 } });
});
A.push({ xref: 'paper', yref: 'paper', x: (700 - 74) / 1253, y: 0, yanchor: 'bottom', text: 'Time in min', showarrow: false, font: { size: 21 } });

// legend
const px = v => (v - 74) / 1253, py = v => 1 - v / H;
const legendItems = [['line', C_PI, 124, 'PI related quantities'], ['line', C_MPC, 352, 'MPC related quantities'], ['line', C_HMPC, 606, 'HMPC related quantities'],
  ['box', C_DOOR, 871, 'Door opening'], ['box', C_WIN, 1044, 'Temperature window']];
legendItems.forEach(([kind, c, x0, t]) => {
  if (kind === 'line') S.push({ type: 'line', xref: 'paper', yref: 'paper', x0: px(x0), x1: px(x0 + 38), y0: py(16), y1: py(16), line: { color: c, width: 2.6 } });
  else S.push({ type: 'rect', xref: 'paper', yref: 'paper', x0: px(x0), x1: px(x0 + 38), y0: py(25), y1: py(7), fillcolor: c, line: { width: 0 } });
  A.push({ xref: 'paper', yref: 'paper', x: px(x0 + 45), y: py(16), text: t, showarrow: false, xanchor: 'left', yanchor: 'middle', font: { size: 19 } });
});

Plotly.newPlot('chart', traces, layout, { staticPlot: true, displayModeBar: false });
</script></body></html>
